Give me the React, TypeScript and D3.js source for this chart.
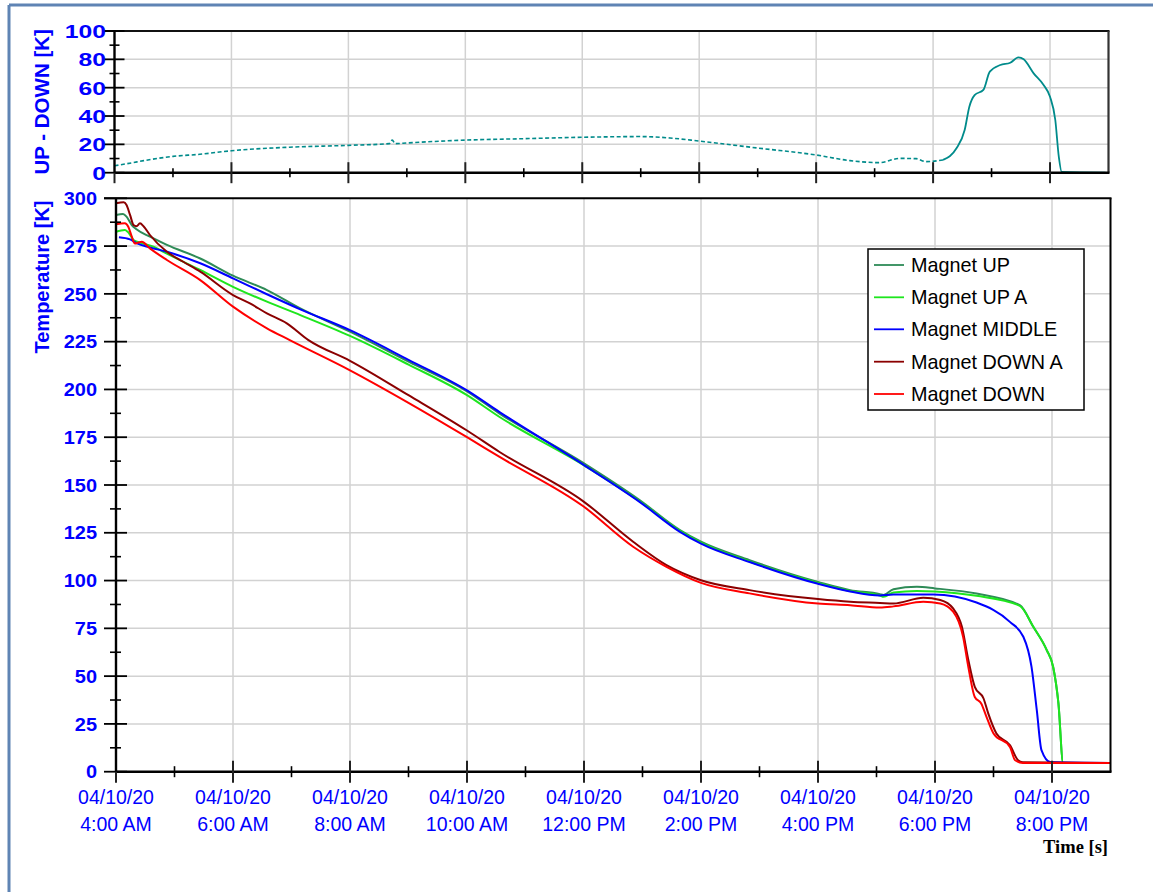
import React from "react";
import * as d3 from "d3";

// ---------- data (hours since midnight, 04/10/2020) ----------
const xTickHours = [4, 6, 8, 10, 12, 14, 16, 18, 20];
const xMinorHours = [5, 7, 9, 11, 13, 15, 17, 19];
const tempTicks = [0, 25, 50, 75, 100, 125, 150, 175, 200, 225, 250, 275, 300];
const diffTicks = [0, 20, 40, 60, 80, 100];

const upHours = [4.0, 4.12, 4.18, 4.27, 4.35, 4.58, 4.87, 5.44, 6.0, 6.58, 7.15, 8.0, 9.0, 10.0, 10.55, 12.0, 12.95, 13.64, 14.0, 14.83, 16.0, 16.55, 17.06, 17.12, 17.29, 17.69, 18.0, 18.71, 19.45, 19.68, 19.91, 20.02, 20.11, 20.19, 21.0];
const upTemp = [291.3, 291.8, 290.4, 286.0, 283.8, 279.9, 275.6, 268.5, 259.5, 252.0, 242.4, 230.2, 214.5, 199.0, 187.5, 161.3, 142.1, 126.4, 120.3, 110.7, 99.3, 95.0, 92.9, 92.4, 95.5, 96.7, 95.9, 93.2, 87.1, 75.8, 63.6, 54.8, 35.7, 4.6, 4.6];

const upAHours = [4.0, 4.15, 4.2, 4.3, 4.41, 4.64, 4.87, 5.44, 6.0, 6.58, 7.15, 8.0, 9.0, 10.0, 10.55, 12.0, 12.95, 13.64, 14.0, 14.83, 16.0, 16.55, 17.06, 17.12, 17.29, 17.69, 18.0, 18.71, 19.45, 19.68, 19.91, 20.02, 20.11, 20.19, 21.0];
const upATemp = [282.5, 283.4, 282.5, 278.2, 276.8, 274.7, 271.0, 262.5, 253.7, 245.9, 238.9, 228.0, 213.0, 197.0, 185.7, 160.3, 141.5, 126.0, 119.8, 110.0, 98.8, 94.5, 92.2, 91.5, 93.8, 94.6, 94.3, 92.0, 86.8, 75.8, 63.6, 54.8, 35.7, 4.6, 4.6];

const middleHours = [4.05, 4.24, 4.36, 4.58, 4.87, 5.44, 6.0, 6.58, 7.15, 8.0, 9.0, 10.0, 10.55, 12.0, 12.95, 13.64, 14.0, 14.83, 16.0, 16.55, 17.06, 17.29, 17.97, 18.71, 19.28, 19.51, 19.65, 19.74, 19.82, 19.97, 21.0];
const middleTemp = [279.6, 278.5, 276.4, 274.3, 272.0, 266.0, 258.1, 249.8, 241.9, 231.0, 215.5, 199.5, 188.3, 160.4, 141.2, 125.5, 119.3, 109.7, 98.3, 94.3, 92.2, 92.7, 92.7, 88.5, 78.4, 70.6, 54.8, 32.2, 11.3, 5.1, 4.6];

const downAHours = [4.0, 4.13, 4.18, 4.24, 4.3, 4.35, 4.41, 4.47, 4.58, 4.87, 5.15, 5.44, 6.0, 6.29, 6.58, 6.92, 7.29, 8.0, 9.0, 10.0, 10.55, 12.0, 12.84, 13.41, 14.0, 14.83, 16.0, 16.55, 17.06, 17.29, 17.8, 18.09, 18.31, 18.46, 18.57, 18.68, 18.83, 18.91, 19.05, 19.28, 19.42, 19.5, 21.0];
const downATemp = [297.4, 297.9, 296.5, 291.3, 286.0, 285.4, 286.9, 285.4, 280.8, 272.0, 266.8, 261.6, 249.4, 245.0, 239.8, 234.6, 225.8, 215.0, 197.0, 178.5, 167.4, 141.2, 120.3, 108.1, 100.2, 95.0, 90.3, 88.9, 88.3, 88.0, 91.0, 89.8, 85.4, 75.8, 58.4, 44.4, 38.3, 30.5, 20.0, 13.9, 6.0, 5.0, 4.6];

const downHours = [4.0, 4.15, 4.21, 4.27, 4.32, 4.38, 4.44, 4.58, 4.87, 5.44, 6.0, 6.58, 6.97, 8.0, 9.0, 10.0, 10.55, 12.0, 12.84, 13.41, 14.0, 14.83, 16.0, 16.55, 17.06, 17.29, 17.8, 18.09, 18.31, 18.48, 18.57, 18.68, 18.79, 18.88, 19.0, 19.28, 19.37, 19.5, 21.0];
const downTemp = [286.4, 286.9, 285.1, 279.9, 276.4, 276.8, 277.3, 273.8, 267.7, 257.2, 243.3, 232.0, 225.8, 210.0, 193.0, 175.0, 164.8, 138.6, 117.7, 107.2, 98.8, 93.3, 88.0, 87.1, 85.9, 86.5, 88.9, 88.0, 83.7, 70.6, 54.8, 39.1, 35.7, 28.7, 20.0, 13.0, 6.0, 4.6, 4.6];

const diffHours = [4.0, 4.3, 4.5, 5.0, 5.46, 6.0, 7.0, 8.0, 8.7, 8.75, 8.8, 9.0, 10.0, 11.0, 12.0, 13.0, 13.5, 14.0, 15.0, 16.0, 16.58, 17.08, 17.43, 17.71, 17.88, 18.17, 18.4, 18.54, 18.62, 18.71, 18.86, 18.97, 19.15, 19.32, 19.46, 19.55, 19.72, 19.89, 20.0, 20.09, 20.15, 20.2, 20.95];
const diffValue = [4.9, 7.0, 8.5, 11.5, 13.0, 15.5, 18.0, 19.3, 20.5, 23.0, 20.5, 21.0, 23.0, 24.0, 25.0, 25.5, 24.5, 22.3, 17.4, 12.5, 8.5, 7.1, 10.1, 9.9, 7.8, 9.0, 17.2, 30.1, 46.6, 54.8, 58.4, 71.3, 76.0, 77.6, 81.4, 80.0, 70.1, 61.9, 53.6, 37.2, 11.3, 0.5, 0.0];

const seriesNames = ["Magnet UP", "Magnet UP A", "Magnet MIDDLE", "Magnet DOWN A", "Magnet DOWN"];
const seriesColors = ["#2e8b57", "#1ee61e", "#0000ff", "#8b0000", "#ff0000"];
const seriesHours = [upHours, upAHours, middleHours, downAHours, downHours];
const seriesTemps = [upTemp, upATemp, middleTemp, downATemp, downTemp];

// ---------- helpers ----------
const base = new Date(2020, 3, 10, 0, 0, 0).getTime();
const t = (h: number) => new Date(base + h * 3600000);
const fmtDate = d3.timeFormat("%m/%d/%y");
const fmtTime = d3.timeFormat("%-I:%M %p");

const BLUE = "#0000ff";
const GRID = "#d2d2d2";

export default function App() {
  const W = 1153, H = 892;
  // main chart
  const xM = d3.scaleTime().domain([t(4), t(21)]).range([116, 1110.5]);
  const yM = d3.scaleLinear().domain([0, 300]).range([771.7, 198.3]);
  // top chart
  const xT = d3.scaleTime().domain([t(4), t(21)]).range([114.5, 1108.5]);
  const yT = d3.scaleLinear().domain([0, 100]).range([172.7, 31]);

  const lineM = d3.line<[number, number]>()
    .x((d) => xM(t(d[0])))
    .y((d) => yM(d[1]))
    .curve(d3.curveMonotoneX);
  const lineT = d3.line<[number, number]>()
    .x((d) => xT(t(d[0])))
    .y((d) => yT(d[1]))
    .curve(d3.curveMonotoneX);

  const diffPts: [number, number][] = diffHours.map((h, i) => [h, diffValue[i]]);
  const diffDashed = diffPts.filter((d) => d[0] <= 18.2);
  const diffSolid = diffPts.filter((d) => d[0] >= 18.17);

  const mx0 = xM.range()[0], mx1 = xM.range()[1];
  const my0 = yM.range()[0], my1 = yM.range()[1];
  const tx0 = xT.range()[0], tx1 = xT.range()[1];
  const ty0 = yT.range()[0], ty1 = yT.range()[1];

  const tempMinor = tempTicks.slice(0, -1).map((v) => v + 12.5);
  const diffMinor = diffTicks.slice(0, -1).map((v) => v + 10);

  const legendX = 868, legendY = 249, legendW = 216, legendH = 161;
  const rowY = [265, 297.3, 329.3, 361.7, 394];

  return (
    <svg width={W} height={H} style={{ position: "absolute", left: 0, top: 0, background: "#fff" }}
      fontFamily="'Liberation Sans', Arial, sans-serif">
      <rect x={0} y={0} width={W} height={H} fill="#fff" />
      {/* window frame */}
      <line x1={9} x2={W} y1={5} y2={5} stroke="#5f84b4" strokeWidth={3} />
      <line x1={9} x2={9} y1={5} y2={H} stroke="#5f84b4" strokeWidth={3} />

      {/* ===== TOP CHART ===== */}
      <g>
        {diffTicks.slice(1, -1).map((v) => (
          <line key={"tg" + v} x1={tx0} x2={tx1} y1={yT(v)} y2={yT(v)} stroke={GRID} strokeWidth={1.5} />
        ))}
        {xTickHours.slice(1).map((h) => (
          <line key={"tvg" + h} x1={xT(t(h))} x2={xT(t(h))} y1={ty1} y2={ty0} stroke={GRID} strokeWidth={1.5} />
        ))}
        <path d={lineT(diffDashed) || ""} fill="none" stroke="#008b8b" strokeWidth={1.6} strokeDasharray="4 2.5" />
        <path d={lineT(diffSolid) || ""} fill="none" stroke="#008b8b" strokeWidth={1.8} />
        {/* frame */}
        <line x1={tx0 - 10} x2={tx1 + 1} y1={ty1} y2={ty1} stroke="#111" strokeWidth={2} />
        <line x1={tx1} x2={tx1} y1={ty1} y2={ty0} stroke="#333" strokeWidth={2.2} />
        <line x1={tx0} x2={tx0} y1={ty1} y2={ty0} stroke="#000" strokeWidth={2.4} />
        <line x1={tx0} x2={tx1 + 1} y1={ty0} y2={ty0} stroke="#000" strokeWidth={2.4} />
        {diffTicks.map((v) => (
          <line key={"tyt" + v} x1={tx0 - 10} x2={tx0 + 10} y1={yT(v)} y2={yT(v)} stroke="#000" strokeWidth={1.8} />
        ))}
        {diffMinor.map((v) => (
          <line key={"tym" + v} x1={tx0 - 5} x2={tx0 + 5} y1={yT(v)} y2={yT(v)} stroke="#000" strokeWidth={1.6} />
        ))}
        {xTickHours.map((h) => (
          <line key={"txt" + h} x1={xT(t(h))} x2={xT(t(h))} y1={h === 4 ? ty0 : ty0 - 10.5} y2={ty0 + 10.5} stroke="#222" strokeWidth={2} />
        ))}
        {xMinorHours.map((h) => (
          <line key={"txm" + h} x1={xT(t(h))} x2={xT(t(h))} y1={ty0 - 4.5} y2={ty0 + 4.5} stroke="#000" strokeWidth={1.6} />
        ))}
        {diffTicks.map((v) => (
          <text key={"tyl" + v} transform={`translate(106,${yT(v)}) scale(1.3,1)`} textAnchor="end" dy="0.36em"
            fontSize={19} fontWeight="bold" fill={BLUE}>{v}</text>
        ))}
        <text transform={`translate(48.5,${(ty0 + ty1) / 2}) rotate(-90)`} textAnchor="middle"
          fontSize={20.5} fontWeight="bold" fill={BLUE}>UP - DOWN [K]</text>
      </g>

      {/* ===== MAIN CHART ===== */}
      <g>
        {tempTicks.slice(1, -1).map((v) => (
          <line key={"mg" + v} x1={mx0} x2={mx1} y1={yM(v)} y2={yM(v)} stroke={GRID} strokeWidth={1.5} />
        ))}
        {xTickHours.slice(1).map((h) => (
          <line key={"mvg" + h} x1={xM(t(h))} x2={xM(t(h))} y1={my1} y2={my0} stroke={GRID} strokeWidth={1.5} />
        ))}
        {seriesNames.map((name, si) => {
          const pts: [number, number][] = seriesHours[si].map((h, i) => [h, seriesTemps[si][i]]);
          return (
            <path key={name} d={lineM(pts) || ""} fill="none" stroke={seriesColors[si]} strokeWidth={2}
              strokeLinejoin="round" />
          );
        })}
        {/* frame */}
        <line x1={mx0 - 12} x2={mx1 + 1} y1={my1} y2={my1} stroke="#000" strokeWidth={2} />
        <line x1={mx1} x2={mx1} y1={my1} y2={my0} stroke="#000" strokeWidth={2} />
        <line x1={mx0} x2={mx0} y1={my1} y2={my0} stroke="#000" strokeWidth={2.4} />
        <line x1={mx0} x2={mx1 + 1} y1={my0} y2={my0} stroke="#000" strokeWidth={2.6} />
        {tempTicks.map((v) => (
          <line key={"myt" + v} x1={mx0 - 12} x2={mx0 + 11} y1={yM(v)} y2={yM(v)} stroke="#000" strokeWidth={1.8} />
        ))}
        {tempMinor.map((v) => (
          <line key={"mym" + v} x1={mx0 - 6} x2={mx0 + 5} y1={yM(v)} y2={yM(v)} stroke="#000" strokeWidth={1.6} />
        ))}
        {xTickHours.map((h) => (
          <line key={"mxt" + h} x1={xM(t(h))} x2={xM(t(h))} y1={h === 4 ? my0 : my0 - 11} y2={my0 + 11} stroke="#222" strokeWidth={2} />
        ))}
        {xMinorHours.map((h) => (
          <line key={"mxm" + h} x1={xM(t(h))} x2={xM(t(h))} y1={my0 - 5.5} y2={my0 + 5.5} stroke="#000" strokeWidth={1.6} />
        ))}
        {tempTicks.map((v) => (
          <text key={"myl" + v} transform={`translate(97,${yM(v)}) scale(1.08,1)`} textAnchor="end" dy="0.36em"
            fontSize={18.5} fontWeight="bold" fill={BLUE}>{v}</text>
        ))}
        {xTickHours.map((h) => (
          <g key={"mxl" + h}>
            <text x={xM(t(h))} y={804} textAnchor="middle" fontSize={19.5} fill={BLUE}>{fmtDate(t(h))}</text>
            <text x={xM(t(h))} y={831} textAnchor="middle" fontSize={19.5} fill={BLUE}>{fmtTime(t(h))}</text>
          </g>
        ))}
        <text transform={`translate(48.5,277) rotate(-90)`} textAnchor="middle"
          fontSize={20} fontWeight="bold" fill={BLUE}>Temperature [K]</text>
        <text x={1108} y={853} textAnchor="end" fontSize={18.5} fontWeight="bold"
          fontFamily="'Liberation Serif', 'Times New Roman', serif" fill="#000">Time [s]</text>

        {/* legend */}
        <rect x={legendX} y={legendY} width={legendW} height={legendH} fill="#fff" stroke="#000" strokeWidth={1.5} />
        {seriesNames.map((name, i) => (
          <g key={"lg" + name}>
            <line x1={874} x2={904} y1={rowY[i]} y2={rowY[i]} stroke={seriesColors[i]} strokeWidth={1.8} />
            <text x={911} y={rowY[i]} dy="0.36em" fontSize={19.8} fill="#000">{name}</text>
          </g>
        ))}
      </g>
    </svg>
  );
}
